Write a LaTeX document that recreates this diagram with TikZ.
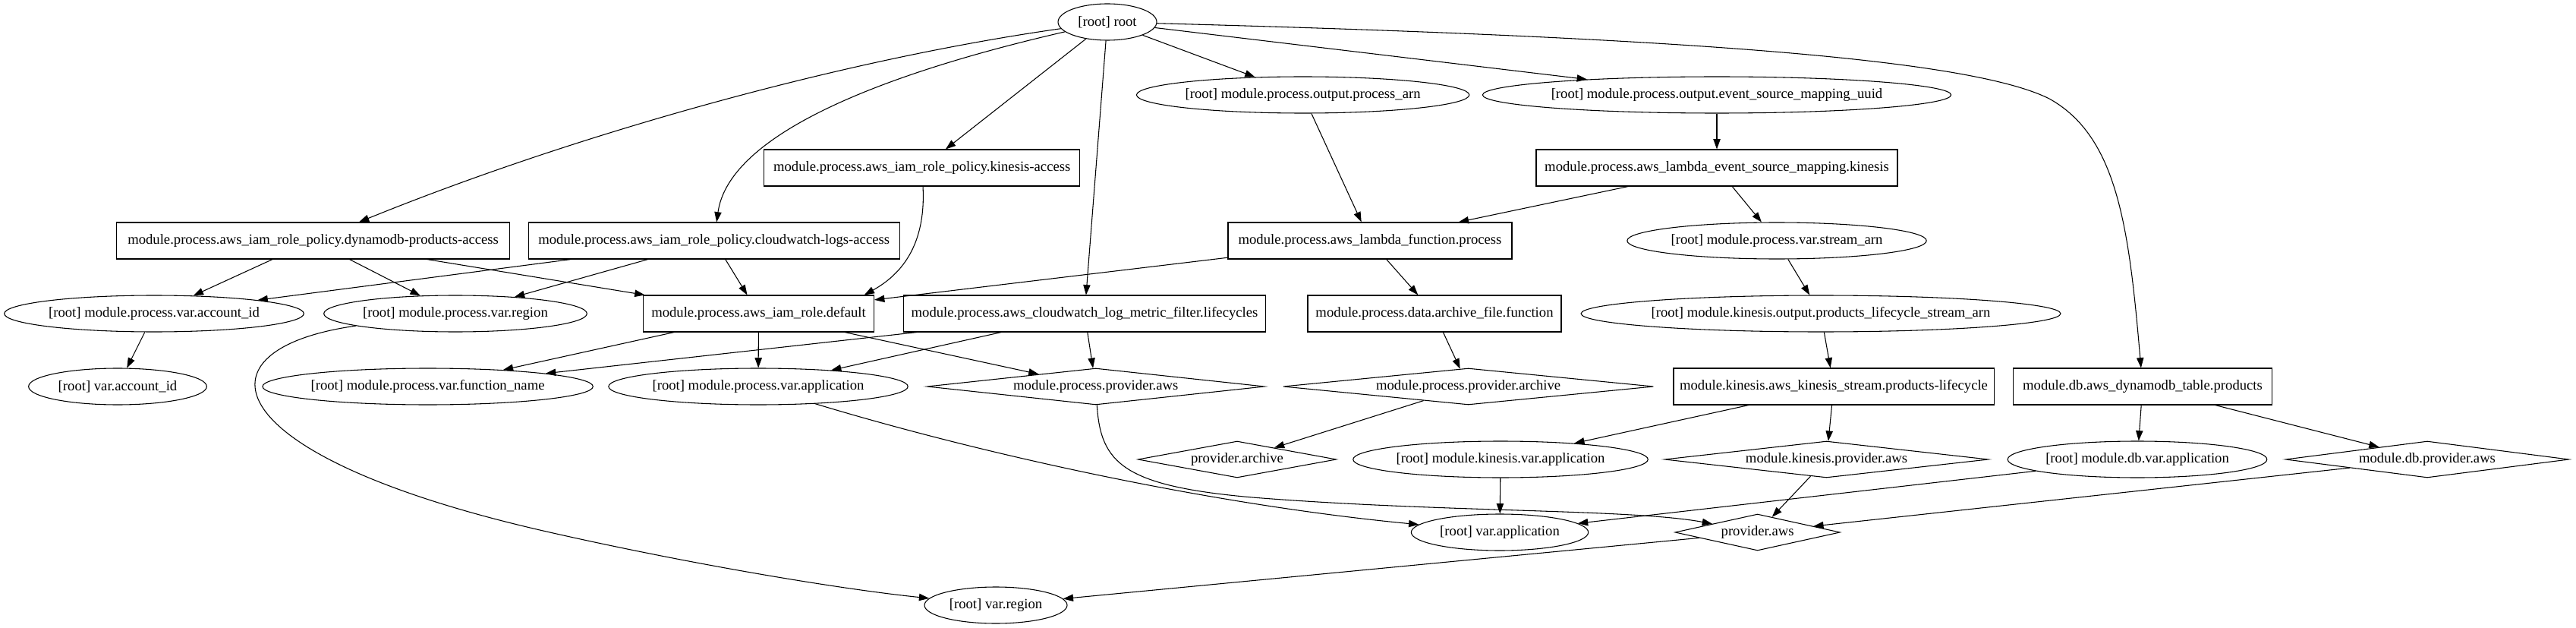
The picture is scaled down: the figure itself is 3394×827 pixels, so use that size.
\documentclass[tikz,border=0pt]{standalone}
\usepackage{fontspec}
\setmainfont{Liberation Serif}
\usepackage{tikz}
\usetikzlibrary{arrows.meta}
\usetikzlibrary{shapes.geometric}

\begin{document}
\begin{tikzpicture}[x=0.75pt,y=-0.75pt,
	every node/.style={draw=black, line width=0.8pt, inner sep=0pt, minimum height=36pt, font=\fontsize{14pt}{16pt}\selectfont}]
	\useasboundingbox (0,0) rectangle (3394,827);

	\begin{scope}[every node/.append style={ellipse}]
		\node[minimum width=97.5pt] (root) at (1459,29) {[root] root};
		\node[minimum width=328.5pt] (arn) at (1716.6,125) {[root] module.process.output.process\_arn};
		\node[minimum width=449pt] (uuid) at (2262,125) {[root] module.process.output.event\_source\_mapping\_uuid};
		\node[minimum width=295pt] (sarn) at (2341,317) {[root] module.process.var.stream\_arn};
		\node[minimum width=296pt] (acct) at (203,413) {[root] module.process.var.account\_id};
		\node[minimum width=260pt] (reg) at (600,413) {[root] module.process.var.region};
		\node[minimum width=455pt] (plsa) at (2399,413) {[root] module.kinesis.output.products\_lifecycle\_stream\_arn};
		\node[minimum width=176pt] (vacct) at (155,509) {[root] var.account\_id};
		\node[minimum width=322.5pt] (fn) at (563.6,509) {[root] module.process.var.function\_name};
		\node[minimum width=294pt] (pva) at (999,509) {[root] module.process.var.application};
		\node[minimum width=287pt] (kva) at (1977,605) {[root] module.kinesis.var.application};
		\node[minimum width=256pt] (dbva) at (2816,605) {[root] module.db.var.application};
		\node[minimum width=175pt] (va) at (1976,701) {[root] var.application};
		\node[minimum width=141pt] (vreg) at (1312,797) {[root] var.region};
	\end{scope}

	\begin{scope}[every node/.append style={rectangle}]
		\node[minimum width=312pt] (kia) at (1214.7,221) {module.process.aws\_iam\_role\_policy.kinesis-access};
		\node[minimum width=357pt] (lesm) at (2262,221) {module.process.aws\_lambda\_event\_source\_mapping.kinesis};
		\node[minimum width=388.5pt] (dpa) at (412.6,317) {module.process.aws\_iam\_role\_policy.dynamodb-products-access};
		\node[minimum width=367pt] (cla) at (940.7,317) {module.process.aws\_iam\_role\_policy.cloudwatch-logs-access};
		\node[minimum width=280.5pt] (lfp) at (1805,317) {module.process.aws\_lambda\_function.process};
		\node[minimum width=228pt] (iam) at (999.5,413) {module.process.aws\_iam\_role.default};
		\node[minimum width=358pt] (mf) at (1429,413) {module.process.aws\_cloudwatch\_log\_metric\_filter.lifecycles};
		\node[minimum width=250.5pt] (daf) at (1890,413) {module.process.data.archive\_file.function};
		\node[minimum width=316.5pt] (kstr) at (2416,509) {module.kinesis.aws\_kinesis\_stream.products-lifecycle};
		\node[minimum width=256pt] (dyn) at (2823,509) {module.db.aws\_dynamodb\_table.products};
	\end{scope}

	\begin{scope}[every node/.append style={diamond}]
		\node[minimum width=333.5pt, aspect=9.26] (pprov) at (1443.8,509) {module.process.provider.aws};
		\node[minimum width=366pt, aspect=10.17] (pparch) at (1934.6,509) {module.process.provider.archive};
		\node[minimum width=196pt, aspect=5.44] (parch) at (1630,605) {provider.archive};
		\node[minimum width=320pt, aspect=8.89] (kprov) at (2406.5,605) {module.kinesis.provider.aws};
		\node[minimum width=280pt, aspect=7.78] (dbprov) at (3198,605) {module.db.provider.aws};
		\node[minimum width=163pt, aspect=4.53] (paws) at (2315.6,701) {provider.aws};
	\end{scope}

	\begin{scope}[>={Triangle[length=10pt,width=7pt]}, line width=0.8pt,
	              every edge/.style={draw=black, ->, line width=0.8pt}]
		\path (root) edge (kia);
		\path (root) edge (mf);
		\path (root) edge (arn);
		\path (root) edge (uuid);
		\path (arn) edge (lfp);
		\path (uuid) edge (lesm);
		\path (lesm) edge (lfp);
		\path (lesm) edge (sarn);
		\path (sarn) edge (plsa);
		\path (plsa) edge (kstr);
		\path (kstr) edge (kva);
		\path (kstr) edge (kprov);
		\path (kprov) edge (paws);
		\path (kva) edge (va);
		\path (dbva) edge (va);
		\path (dbprov) edge (paws);
		\path (dyn) edge (dbva);
		\path (dyn) edge (dbprov);
		\path (paws) edge (vreg);
		\path (pparch) edge (parch);
		\path (daf) edge (pparch);
		\path (lfp) edge (daf);
		\path (lfp) edge (iam);
		\path (dpa) edge (acct);
		\path (dpa) edge (reg);
		\path (dpa) edge (iam);
		\path (cla) edge (acct);
		\path (cla) edge (reg);
		\path (cla) edge (iam);
		\path (iam) edge (fn);
		\path (mf) edge (fn);
		\path (iam) edge (pva);
		\path (mf) edge (pva);
		\path (iam) edge (pprov);
		\path (mf) edge (pprov);
		\path (acct) edge (vacct);
		\draw[->] (root) .. controls (1100,80) and (750,180) .. (dpa);
		\draw[->] (root) .. controls (1150,100) and (960,180) .. (cla);
		\draw[->] (root) .. controls (2250,50) and (2600,80) .. (2700,130) .. controls (2790,180) and (2805,300) .. (dyn);
		\draw[->] (kia) .. controls (1220,320) and (1190,360) .. (iam.10);
		\draw[->] (reg.187) .. controls (250,460) and (280,600) .. (720,700) .. controls (900,741) and (1100,775) .. (vreg);
		\draw[->] (pprov) .. controls (1450,610) and (1480,640) .. (1650,655) .. controls (1900,675) and (2150,670) .. (paws);
		\draw[->] (pva) .. controls (1300,600) and (1600,665) .. (va);
	\end{scope}
\end{tikzpicture}
\end{document}
